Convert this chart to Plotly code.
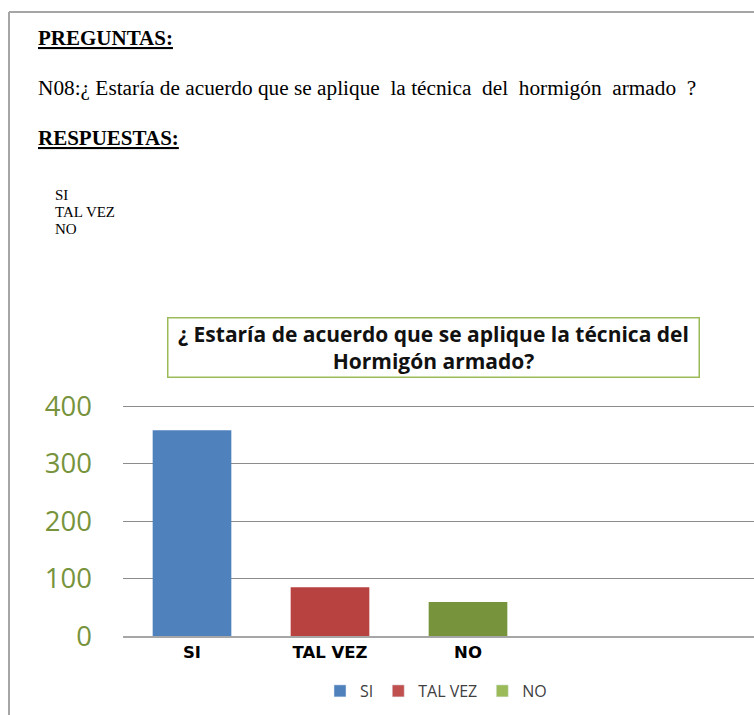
import plotly.graph_objects as go

# survey answers
categories = ["SI", "TAL VEZ", "NO"]
values = [358, 85, 59]
bar_colors = ["#4F81BD", "#B8423F", "#77933C"]
legend_colors = ["#4F81BD", "#C0504D", "#9BBB59"]
y_ticks = [0, 100, 200, 300, 400]
answer_list = ["SI", "TAL VEZ", "NO"]

W, H = 754, 715
# plot area in pixels (a bit of headroom so the 400 gridline is drawn)
L, R, T, B = 123, 0, 405, 79
plot_w = W - L - R
plot_h = H - T - B


def px_x(p):
    return (p - L) / plot_w


def px_y(p):
    return (H - B - p) / plot_h


fig = go.Figure()

fig.add_trace(go.Bar(
    x=categories, y=values,
    marker=dict(color=bar_colors, line=dict(width=0)),
    width=0.57,
    showlegend=False,
    hoverinfo="x+y",
))

# legend-only entries (the legend swatches are lighter than the bars)
for name, col in zip(categories, legend_colors):
    fig.add_trace(go.Bar(x=[None], y=[None], name=name,
                         marker=dict(color=col)))

serif = "Liberation Serif, Times New Roman, serif"
annotations = [
    dict(text="<b><u>PREGUNTAS:</u></b>", x=px_x(36), y=px_y(38),
         font=dict(family=serif, size=21, color="#000")),
    dict(text="N08:¿ Estaría de acuerdo que se aplique  la técnica  del  hormigón  armado  ?",
         x=px_x(36), y=px_y(88), font=dict(family=serif, size=21.3, color="#000")),
    dict(text="<b><u>RESPUESTAS:</u></b>", x=px_x(36), y=px_y(138),
         font=dict(family=serif, size=21, color="#000")),
]
for i, a in enumerate(answer_list):
    annotations.append(dict(text=a, x=px_x(53), y=px_y(195 + 17 * i),
                            font=dict(family=serif, size=15, color="#000")))
for a in annotations:
    a.update(xref="paper", yref="paper", xanchor="left", yanchor="middle",
             showarrow=False)

# chart title box
annotations.append(dict(
    text="<b>¿ Estaría de acuerdo que se aplique la técnica del<br>Hormigón armado?</b>",
    xref="paper", yref="paper", x=px_x(433.5), y=px_y(347.5),
    xanchor="center", yanchor="middle", showarrow=False,
    width=530, height=58, borderpad=0,
    bordercolor="#9BBB59", borderwidth=1.5, bgcolor="white",
    font=dict(family="Open Sans, sans-serif", size=21, color="#111"),
))

fig.update_layout(
    width=W, height=H,
    margin=dict(l=L, r=R, t=T, b=B, pad=0),
    paper_bgcolor="white", plot_bgcolor="white",
    annotations=annotations,
    shapes=[
        dict(type="line", xref="paper", yref="paper",
             x0=px_x(9), x1=px_x(9), y0=px_y(12), y1=px_y(H + 5),
             line=dict(color="#A6A6A6", width=2)),
        dict(type="line", xref="paper", yref="paper",
             x0=px_x(9), x1=1.01, y0=px_y(12), y1=px_y(12),
             line=dict(color="#A6A6A6", width=2)),
    ],
    legend=dict(orientation="h", x=px_x(436), y=px_y(691),
                xanchor="center", yanchor="middle",
                font=dict(family="Liberation Sans Narrow, Open Sans, sans-serif",
                          size=16, color="#404040"),
                itemwidth=30, traceorder="normal"),
    bargap=0.43,
)

fig.update_xaxes(
    categoryorder="array", categoryarray=categories,
    range=[-0.5, -0.5 + plot_w / 138],
    showgrid=False, showline=True, linecolor="#A6A6A6", linewidth=1.5,
    tickfont=dict(family="DejaVu Sans", size=16.5, color="#000"),
    tickprefix="<b>", ticksuffix="</b>",
    ticks="", fixedrange=True,
)
fig.update_yaxes(
    range=[0, 402], tickvals=y_ticks,
    showgrid=True, gridcolor="#8C8C8C", gridwidth=1,
    zeroline=False, showline=False,
    tickfont=dict(family="Open Sans, sans-serif", size=27.5, color="#77933C"),
    ticklabelstandoff=30,
)

# drop the default page margin so the figure sits at the window's corner
fig.write_html("out.html", config={"displayModeBar": False},
               post_script="document.body.style.margin='0';")
